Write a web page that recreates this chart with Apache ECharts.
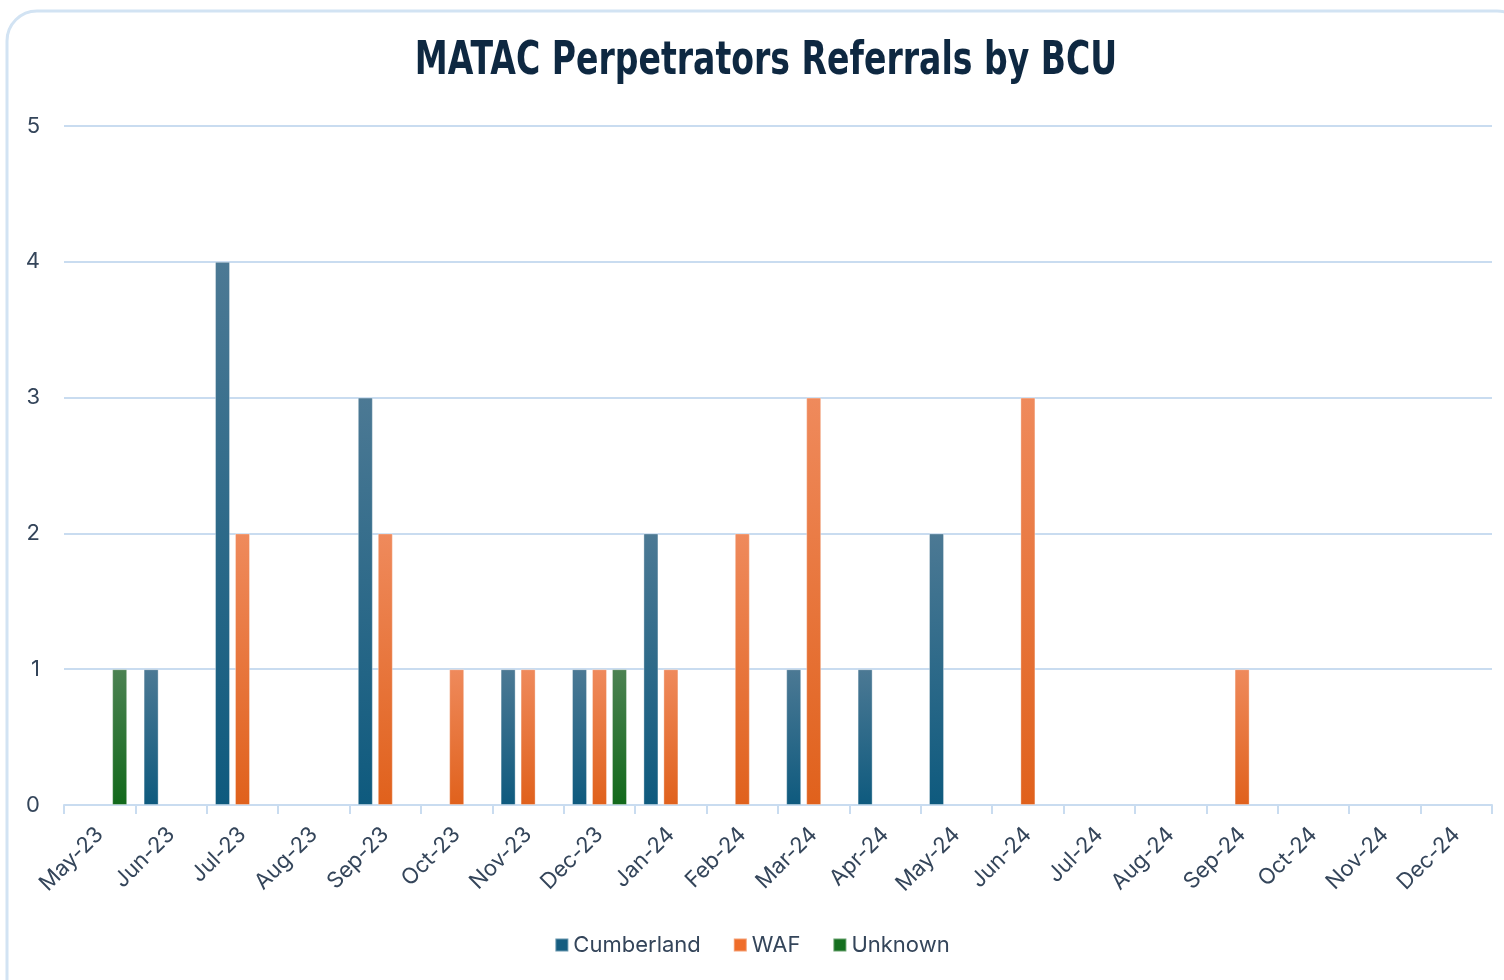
<!DOCTYPE html>
<html>
<head>
<meta charset="utf-8">
<script src="https://cdn.jsdelivr.net/npm/echarts@6/dist/echarts.min.js"></script>
<style>
  html, body { margin: 0; padding: 0; background: #fff; }
  #main { width: 1504px; height: 980px; }
</style>
</head>
<body>
<div id="main"></div>
<script>
// 数据
var months = ['May-23', 'Jun-23', 'Jul-23', 'Aug-23', 'Sep-23', 'Oct-23', 'Nov-23', 'Dec-23',
  'Jan-24', 'Feb-24', 'Mar-24', 'Apr-24', 'May-24', 'Jun-24', 'Jul-24', 'Aug-24',
  'Sep-24', 'Oct-24', 'Nov-24', 'Dec-24'];
var cumberland = [0, 1, 4, 0, 3, 0, 1, 1, 2, 0, 1, 1, 2, 0, 0, 0, 0, 0, 0, 0];
var waf = [0, 0, 2, 0, 2, 1, 1, 1, 1, 2, 3, 0, 0, 3, 0, 0, 1, 0, 0, 0];
var unknown = [1, 0, 0, 0, 0, 0, 0, 1, 0, 0, 0, 0, 0, 0, 0, 0, 0, 0, 0, 0];
var titleText = 'MATAC Perpetrators Referrals by BCU';

var myChart = echarts.init(document.getElementById('main'));

function grad(top, bottom) {
  return new echarts.graphic.LinearGradient(0, 0, 0, 1, [
    { offset: 0, color: top },
    { offset: 1, color: bottom }
  ]);
}
// 零值不画柱子（像Excel一样）
function noZero(arr) {
  return arr.map(function (v) { return v === 0 ? '-' : v; });
}

var textColor = '#34455a';
var lineColor = '#c9dcf0';
var border = 'rgba(255,255,255,0.35)';
var font = "Inter, 'Open Sans', sans-serif";

var option = {
  backgroundColor: '#fff',
  animation: false,
  graphic: [{
    type: 'rect',
    shape: { x: 7, y: 11, width: 1520, height: 1000, r: 30 },
    style: { fill: 'none', stroke: '#d2e3f3', lineWidth: 3 },
    z: -1
  }, {
    // 标题：用压缩的粗体字
    type: 'text',
    x: 766,
    y: 62,
    scaleX: 0.8,
    style: {
      text: titleText,
      x: 0,
      y: 0,
      align: 'center',
      verticalAlign: 'middle',
      font: "bold 46px 'DejaVu Sans Condensed', 'DejaVu Sans', sans-serif",
      fill: '#0e2841'
    }
  }],
  legend: {
    top: 929,
    left: 'center',
    itemWidth: 13,
    itemHeight: 13,
    itemGap: 32,
    icon: 'rect',
    textStyle: { fontFamily: font, fontSize: 22, color: textColor },
    data: [
      { name: 'Cumberland', itemStyle: { color: '#155d80' } },
      { name: 'WAF', itemStyle: { color: '#ef6d2a' } },
      { name: 'Unknown', itemStyle: { color: '#156f1f' } }
    ]
  },
  grid: { left: 64, right: 12, top: 126, bottom: 175 },
  xAxis: {
    type: 'category',
    data: months,
    axisLine: { lineStyle: { color: lineColor, width: 2 } },
    axisTick: { show: true, length: 9, lineStyle: { color: lineColor, width: 2 } },
    axisLabel: {
      rotate: 45,
      margin: 26,
      fontFamily: font,
      fontSize: 22,
      color: textColor
    }
  },
  yAxis: {
    type: 'value',
    min: 0,
    max: 5,
    interval: 1,
    axisLine: { show: false },
    axisTick: { show: false },
    splitLine: { lineStyle: { color: lineColor, width: 2 } },
    axisLabel: {
      margin: 24,
      fontFamily: font,
      fontSize: 22,
      color: textColor
    }
  },
  series: [
    {
      name: 'Cumberland',
      type: 'bar',
      data: noZero(cumberland),
      barGap: '33%',
      barCategoryGap: '23%',
      itemStyle: { color: grad('#4c7994', '#0e5a7e'), borderColor: border, borderWidth: 1 }
    },
    {
      name: 'WAF',
      type: 'bar',
      data: noZero(waf),
      itemStyle: { color: grad('#ef8a5c', '#e0611c'), borderColor: border, borderWidth: 1 }
    },
    {
      name: 'Unknown',
      type: 'bar',
      data: noZero(unknown),
      itemStyle: { color: grad('#4c8252', '#12691b'), borderColor: border, borderWidth: 1 }
    }
  ]
};

myChart.setOption(option, true);
</script>
</body>
</html>
